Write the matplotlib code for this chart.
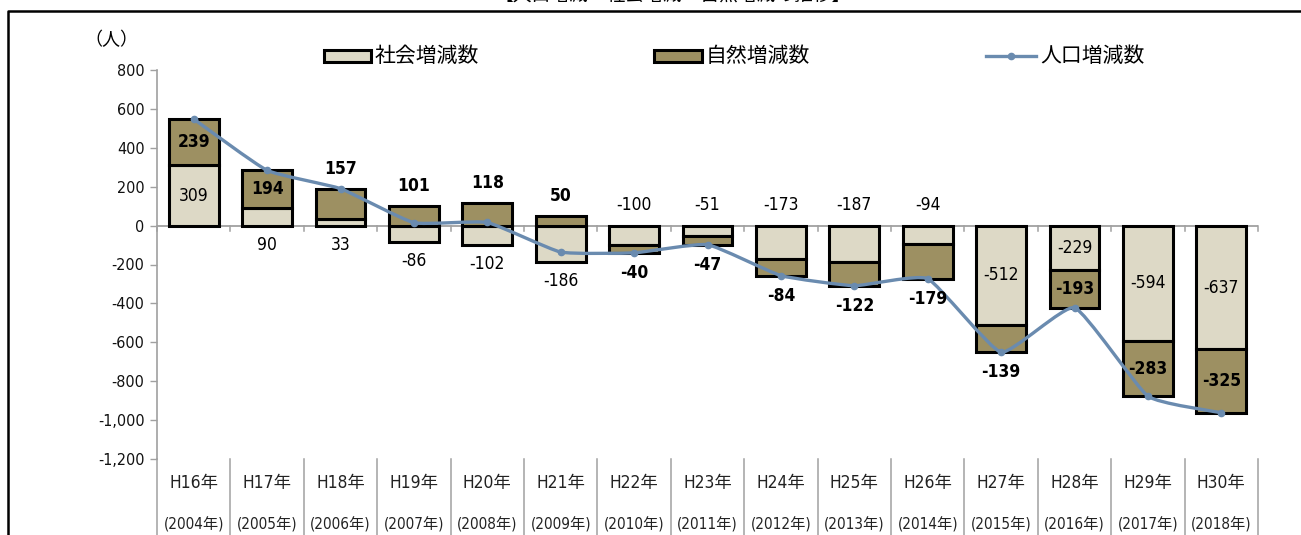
import matplotlib
matplotlib.use('Agg')
import matplotlib.pyplot as plt
import numpy as np
from matplotlib.path import Path
from matplotlib.patches import PathPatch, Rectangle
from matplotlib.lines import Line2D
import matplotlib.transforms as mtransforms

# ---------------- data ----------------
years_h = ["H16年", "H17年", "H18年", "H19年", "H20年", "H21年", "H22年", "H23年",
           "H24年", "H25年", "H26年", "H27年", "H28年", "H29年", "H30年"]
years_ad = ["(2004年)", "(2005年)", "(2006年)", "(2007年)", "(2008年)", "(2009年)",
            "(2010年)", "(2011年)", "(2012年)", "(2013年)", "(2014年)", "(2015年)",
            "(2016年)", "(2017年)", "(2018年)"]
social = [309, 90, 33, -86, -102, -186, -100, -51, -173, -187, -94, -512, -229, -594, -637]
natural = [239, 194, 157, 101, 118, 50, -40, -47, -84, -122, -179, -139, -193, -283, -325]
y_ticks = [800, 600, 400, 200, 0, -200, -400, -600, -800, -1000, -1200]
legend_labels = ["社会増減数", "自然増減数", "人口増減数"]
title_text = "【人口増減・社会増減・自然増減の推移】"
unit_text = "（人）"

# ---------------- style ----------------
C_SOC = "#DDD9C6"
C_NAT = "#9D9062"
C_LINE = "#6A8BAF"
C_GRAY = "#A0A0A0"
NUM = ["DejaVu Sans", "Noto Sans CJK JP"]
JP = ["Noto Sans CJK JP", "DejaVu Sans"]
ST = "condensed"

W, H = 1301, 535
fig = plt.figure(figsize=(W / 100, H / 100), dpi=100)


def fx(px):
    return px / W


def fy(py):
    return 1 - py / H


ax = fig.add_axes([fx(157), fy(459), fx(1258) - fx(157), fy(70) - fy(459)])
n = len(social)
x = np.arange(n)
soc = np.array(social, dtype=float)
nat = np.array(natural, dtype=float)
total = soc + nat
nat_bottom = np.where(np.sign(nat) == np.sign(soc), soc, 0.0)

ax.set_xlim(-0.5, n - 0.5)
ax.set_ylim(-1200, 800)

# zero line
ax.axhline(0, color=C_GRAY, lw=1.3, zorder=1)
for b in np.arange(n + 1) - 0.5:
    ax.plot([b, b], [0, -28], color=C_GRAY, lw=1.1, zorder=1, clip_on=False)

bw = 0.68
ax.bar(x, soc, width=bw, color=C_SOC, edgecolor="black", linewidth=2.2, zorder=2)
ax.bar(x, nat, bottom=nat_bottom, width=bw, color=C_NAT, edgecolor="black",
       linewidth=2.2, zorder=2)

# lightly smoothed population line (Bezier through the data points)
pts = np.column_stack([x, total])
verts = [tuple(pts[0])]
codes = [Path.MOVETO]
k = 14.0
for i in range(n - 1):
    p0 = pts[i - 1] if i > 0 else pts[i]
    p1 = pts[i]
    p2 = pts[i + 1]
    p3 = pts[i + 2] if i + 2 < n else pts[i + 1]
    c1 = p1 + (p2 - p0) / k
    c2 = p2 - (p3 - p1) / k
    verts += [tuple(c1), tuple(c2), tuple(p2)]
    codes += [Path.CURVE4] * 3
ax.add_patch(PathPatch(Path(verts, codes), facecolor="none", edgecolor=C_LINE,
                       lw=2.4, zorder=4, capstyle="round", joinstyle="round"))
ax.plot(x, total, linestyle="none", marker="o", ms=4.5, color=C_LINE, zorder=5)

# data labels
PX = 0.72  # pixels -> points
lab_fs = 12.5
kw = dict(ha="center", va="center", fontsize=lab_fs, family=NUM, fontstretch=ST, zorder=6)
for i in range(n):
    s, nv = soc[i], nat[i]
    # social label
    if abs(s) >= 200:
        ax.annotate(f"{int(s)}", (x[i], s / 2), **kw)
    elif s > 0:
        ax.annotate(f"{int(s)}", (x[i], 0), xytext=(0, -19 * PX), textcoords="offset points", **kw)
    elif nv > 0:
        ax.annotate(f"{int(s)}", (x[i], s), xytext=(0, -19 * PX), textcoords="offset points", **kw)
    else:
        ax.annotate(f"{int(s)}", (x[i], 0), xytext=(0, 21 * PX), textcoords="offset points", **kw)
    # natural label (bold)
    if abs(nv) >= 190:
        ax.annotate(f"{int(nv)}", (x[i], nat_bottom[i] + nv / 2), weight="bold", **kw)
    elif nv > 0:
        top = nat_bottom[i] + nv
        ax.annotate(f"{int(nv)}", (x[i], top), xytext=(0, 20 * PX), textcoords="offset points",
                    weight="bold", **kw)
    else:
        end = nat_bottom[i] + nv
        ax.annotate(f"{int(nv)}", (x[i], end), xytext=(0, -20 * PX), textcoords="offset points",
                    weight="bold", **kw)

# axes styling
for sp in ["top", "right", "bottom"]:
    ax.spines[sp].set_visible(False)
ax.spines["left"].set_color(C_GRAY)
ax.spines["left"].set_linewidth(1.2)
ax.set_xticks([])
ax.set_yticks(y_ticks)
ax.set_yticklabels([f"{v:,}" for v in y_ticks], family=NUM, fontsize=11.5, color="#111111",
                   fontstretch=ST)
ax.tick_params(axis="y", length=5, width=1, color=C_GRAY, pad=4)

# category table below the axes
trans = mtransforms.blended_transform_factory(ax.transData, ax.transAxes)
for b in np.arange(n + 1) - 0.5:
    ax.add_line(Line2D([b, b], [0, -0.25], transform=trans, color=C_GRAY, lw=1.1,
                       clip_on=False))
yh = (fy(483) - fy(459)) / (fy(70) - fy(459))
ya = (fy(525) - fy(459)) / (fy(70) - fy(459))
for i in range(n):
    ax.text(x[i], yh, years_h[i], transform=trans, ha="center", va="center",
            fontsize=12.5, family=NUM, fontstretch=ST, color="#222222")
    ax.text(x[i], ya, years_ad[i], transform=trans, ha="center", va="center",
            fontsize=11, family=NUM, fontstretch=ST, color="#222222")

# unit label
fig.text(fx(111), fy(40), unit_text, ha="center", va="center", fontsize=13, family=JP)

# legend (manual)
ly = 56
bh = 11
for (x0, x1), col, lab, tx in [((324, 371), C_SOC, legend_labels[0], 375),
                               ((654, 702), C_NAT, legend_labels[1], 706)]:
    fig.patches.append(Rectangle((fx(x0), fy(ly + bh / 2)), fx(x1) - fx(x0),
                                 fy(ly - bh / 2) - fy(ly + bh / 2),
                                 transform=fig.transFigure, facecolor=col, edgecolor="black",
                                 linewidth=2.2))
    fig.text(fx(tx), fy(ly), lab, ha="left", va="center", fontsize=15, family=JP)
fig.add_artist(Line2D([fx(986), fx(1036)], [fy(ly), fy(ly)], transform=fig.transFigure,
                      color=C_LINE, lw=2.4))
fig.add_artist(Line2D([fx(1011)], [fy(ly)], transform=fig.transFigure, color=C_LINE,
                      marker="o", ms=4.5, linestyle="none"))
fig.text(fx(1040), fy(ly), legend_labels[2], ha="left", va="center", fontsize=15, family=JP)

# outer frame and clipped title (only its lower edge shows, as in the original)
fig.add_artist(Line2D([fx(8), fx(8), fx(1301)], [fy(535), fy(11), fy(11)],
                      transform=fig.transFigure, color="black", lw=1.8))
fig.text(fx(673), fy(-5), title_text, ha="center", va="center", fontsize=13.5, family=JP)

fig.savefig("out.png", dpi=100)
